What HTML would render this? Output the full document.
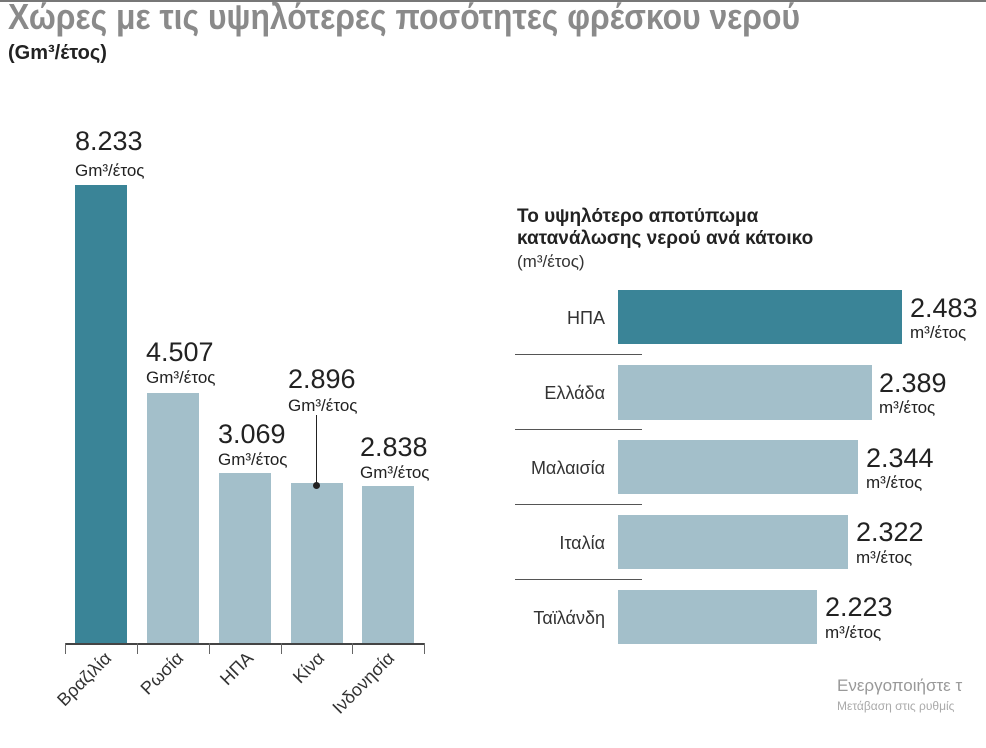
<!DOCTYPE html>
<html><head><meta charset="utf-8"><style>
body{margin:0;width:986px;height:716px;background:#fff;position:relative;overflow:hidden;font-family:"Liberation Sans Narrow","Liberation Sans",sans-serif;}
.a{position:absolute;white-space:nowrap}
.b{position:absolute}
.v{font-size:27px;color:#222;font-family:"Liberation Sans",sans-serif;line-height:1}
.u{font-size:17px;color:#222;line-height:1}
.l{font-size:18px;color:#333;text-align:right;width:100px}
.r{position:absolute;width:120px;text-align:right;font-size:18px;color:#333;transform:rotate(-45deg);transform-origin:right top;white-space:nowrap}
.sep{position:absolute;height:1px;background:#555;left:515px;width:127px}
</style></head><body>
<div class="b" style="left:0;top:0;width:986px;height:2px;background:#777"></div>
<div class="a" style="left:8px;top:-4px;font-size:36px;font-weight:bold;color:#8a8a8a;transform:scaleX(0.885);transform-origin:left">Χώρες με τις υψηλότερες ποσότητες φρέσκου νερού</div>
<div class="a" style="left:8px;top:42px;font-size:20px;font-weight:bold;color:#222">(Gm³/έτος)</div>

<div class="b" style="left:75px;top:185px;width:52px;height:458px;background:#3a8497"></div>
<div class="b" style="left:147px;top:393px;width:52px;height:250px;background:#a3bfca"></div>
<div class="b" style="left:219px;top:473px;width:52px;height:170px;background:#a3bfca"></div>
<div class="b" style="left:291px;top:483px;width:52px;height:160px;background:#a3bfca"></div>
<div class="b" style="left:362px;top:486px;width:52px;height:157px;background:#a3bfca"></div>
<div class="b" style="left:65px;top:643px;width:360px;height:2px;background:#444"></div>
<div class="b" style="left:65px;top:643px;width:1px;height:11px;background:#666"></div>
<div class="b" style="left:137px;top:643px;width:1px;height:11px;background:#666"></div>
<div class="b" style="left:209px;top:643px;width:1px;height:11px;background:#666"></div>
<div class="b" style="left:281px;top:643px;width:1px;height:11px;background:#666"></div>
<div class="b" style="left:352px;top:643px;width:1px;height:11px;background:#666"></div>
<div class="b" style="left:424px;top:643px;width:1px;height:11px;background:#666"></div>
<div class="b" style="left:316px;top:415px;width:1px;height:70px;background:#222"></div>
<div class="b" style="left:313px;top:482px;width:7px;height:7px;border-radius:50%;background:#222"></div>

<div class="a v" style="left:75px;top:128px">8.233</div><div class="a u" style="left:75px;top:162px">Gm³/έτος</div>
<div class="a v" style="left:146px;top:339px">4.507</div><div class="a u" style="left:146px;top:369px">Gm³/έτος</div>
<div class="a v" style="left:218px;top:421px">3.069</div><div class="a u" style="left:218px;top:451px">Gm³/έτος</div>
<div class="a v" style="left:288px;top:366px">2.896</div><div class="a u" style="left:288px;top:397px">Gm³/έτος</div>
<div class="a v" style="left:360px;top:434px">2.838</div><div class="a u" style="left:360px;top:464px">Gm³/έτος</div>

<div class="r" style="left:-19px;top:648px">Βραζιλία</div>
<div class="r" style="left:53px;top:648px">Ρωσία</div>
<div class="r" style="left:123px;top:648px">ΗΠΑ</div>
<div class="r" style="left:194px;top:648px">Κίνα</div>
<div class="r" style="left:264px;top:648px">Ινδονησία</div>

<div class="a" style="left:517px;top:206px;font-size:19px;font-weight:bold;color:#222;line-height:22px">Το υψηλότερο αποτύπωμα<br>κατανάλωσης νερού ανά κάτοικο</div>
<div class="a" style="left:517px;top:252px;font-size:17px;color:#333">(m³/έτος)</div>

<div class="b" style="left:618px;top:290px;width:284px;height:54px;background:#3a8497"></div>
<div class="b" style="left:618px;top:365px;width:254px;height:55px;background:#a3bfca"></div>
<div class="b" style="left:618px;top:440px;width:240px;height:54px;background:#a3bfca"></div>
<div class="b" style="left:618px;top:515px;width:230px;height:54px;background:#a3bfca"></div>
<div class="b" style="left:618px;top:590px;width:199px;height:54px;background:#a3bfca"></div>
<div class="sep" style="top:354px"></div><div class="sep" style="top:429px"></div><div class="sep" style="top:504px"></div><div class="sep" style="top:579px"></div>
<div class="a l" style="left:505px;top:308px">ΗΠΑ</div>
<div class="a l" style="left:505px;top:383px">Ελλάδα</div>
<div class="a l" style="left:505px;top:458px">Μαλαισία</div>
<div class="a l" style="left:505px;top:533px">Ιταλία</div>
<div class="a l" style="left:505px;top:608px">Ταϊλάνδη</div>

<div class="a v" style="left:910px;top:295px">2.483</div><div class="a u" style="left:910px;top:324px">m³/έτος</div>
<div class="a v" style="left:879px;top:370px">2.389</div><div class="a u" style="left:879px;top:399px">m³/έτος</div>
<div class="a v" style="left:866px;top:445px">2.344</div><div class="a u" style="left:866px;top:474px">m³/έτος</div>
<div class="a v" style="left:856px;top:519px">2.322</div><div class="a u" style="left:856px;top:549px">m³/έτος</div>
<div class="a v" style="left:825px;top:594px">2.223</div><div class="a u" style="left:825px;top:624px">m³/έτος</div>

<div class="a" style="left:837px;top:676px;font-size:17px;color:#999;font-family:'Liberation Sans',sans-serif">Ενεργοποιήστε τ</div>
<div class="a" style="left:837px;top:699px;font-size:12px;color:#aaa;font-family:'Liberation Sans',sans-serif">Μετάβαση στις ρυθμίς</div>
</body></html>
